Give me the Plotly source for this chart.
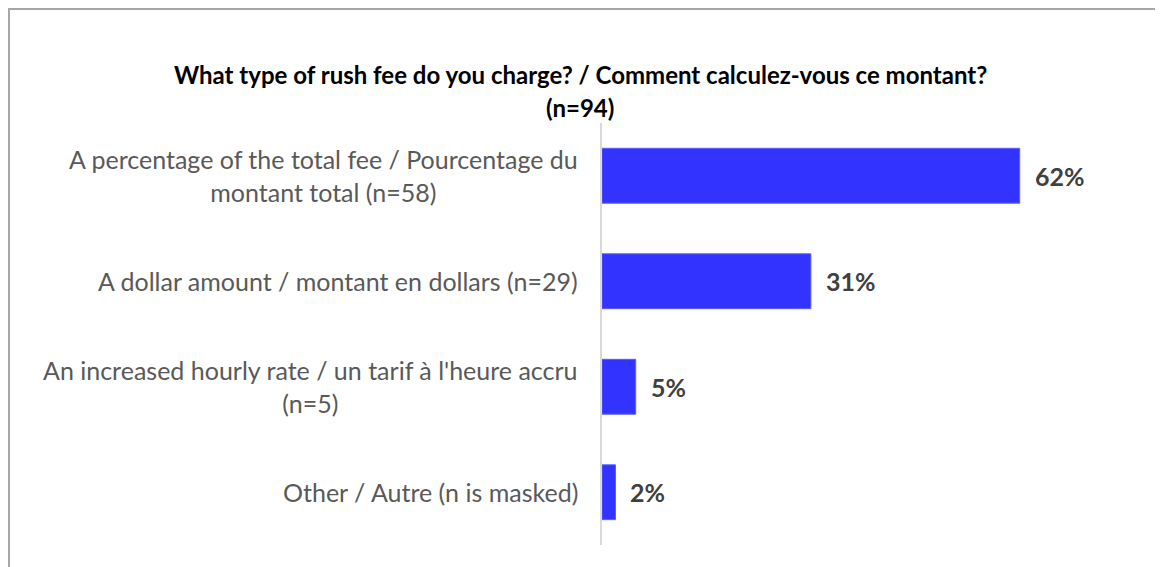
import plotly.graph_objects as go

categories = [
    "A percentage of the total fee / Pourcentage du<br>montant total (n=58)",
    "A dollar amount / montant en dollars (n=29)",
    "An increased hourly rate / un tarif à l'heure accru<br>(n=5)",
    "Other / Autre (n is masked)",
]
values = [62, 31, 5, 2]
value_labels = ["62%", "31%", "5%", "2%"]
title_line1 = "What type of rush fee do you charge? / Comment calculez-vous ce montant?"
title_line2 = "(n=94)"

# page has an 8px body margin; work in figure pixels
OFF = 8
W, H = 1163 - OFF, 567 - OFF
ML, MR, MT, MB = 594, 22, 115, 22
pw = W - ML - MR
ph = H - MT - MB

def px_x(px):
    return (px - ML) / pw

def px_y(py):
    return 1 + (MT - py) / ph

FONT = "Lato"

fig = go.Figure()
fig.add_trace(go.Bar(
    x=values, y=categories, orientation="h",
    marker=dict(color="#3333FF", line=dict(color="#5c5cff", width=1)),
    width=0.52, hoverinfo="skip",
))

annotations = []
for c in categories:
    annotations.append(dict(
        x=0, xref="paper", y=c, yref="y", xanchor="right", yanchor="middle",
        xshift=-22, text=c, showarrow=False, align="center",
        font=dict(family=FONT, size=25, color="#595959"),
    ))
for v, c, t in zip(values, categories, value_labels):
    annotations.append(dict(
        x=v, xref="x", y=c, yref="y", xanchor="left", yanchor="middle",
        xshift=13, text="<b>%s</b>" % t, showarrow=False,
        font=dict(family=FONT, size=25, color="#404040"),
    ))
annotations.append(dict(
    x=px_x(572), xref="paper", y=px_y(67), yref="paper", xanchor="center", yanchor="middle",
    text="<b>%s</b>" % title_line1, showarrow=False,
    font=dict(family=FONT, size=24, color="#000000"),
))
annotations.append(dict(
    x=px_x(572), xref="paper", y=px_y(100), yref="paper", xanchor="center", yanchor="middle",
    text="<b>%s</b>" % title_line2, showarrow=False,
    font=dict(family=FONT, size=24, color="#000000"),
))

fig.update_layout(
    width=W, height=H,
    margin=dict(l=ML, r=MR, t=MT, b=MB, autoexpand=False),
    paper_bgcolor="white", plot_bgcolor="white",
    showlegend=False,
    bargap=0.476,
    xaxis=dict(range=[0, 80], visible=False, fixedrange=True),
    yaxis=dict(autorange="reversed", showticklabels=False, showgrid=False,
               showline=True, linecolor="#d9d9d9", linewidth=2, ticks="",
               zeroline=False, fixedrange=True),
    annotations=annotations,
    shapes=[dict(type="rect", xref="paper", yref="paper",
                 x0=px_x(1), x1=px_x(W + 20), y0=px_y(H + 30), y1=px_y(1),
                 line=dict(color="#a6a6a6", width=2), fillcolor="rgba(0,0,0,0)",
                 layer="below")],
)

fig.write_html("out.html", config={"displayModeBar": False})
